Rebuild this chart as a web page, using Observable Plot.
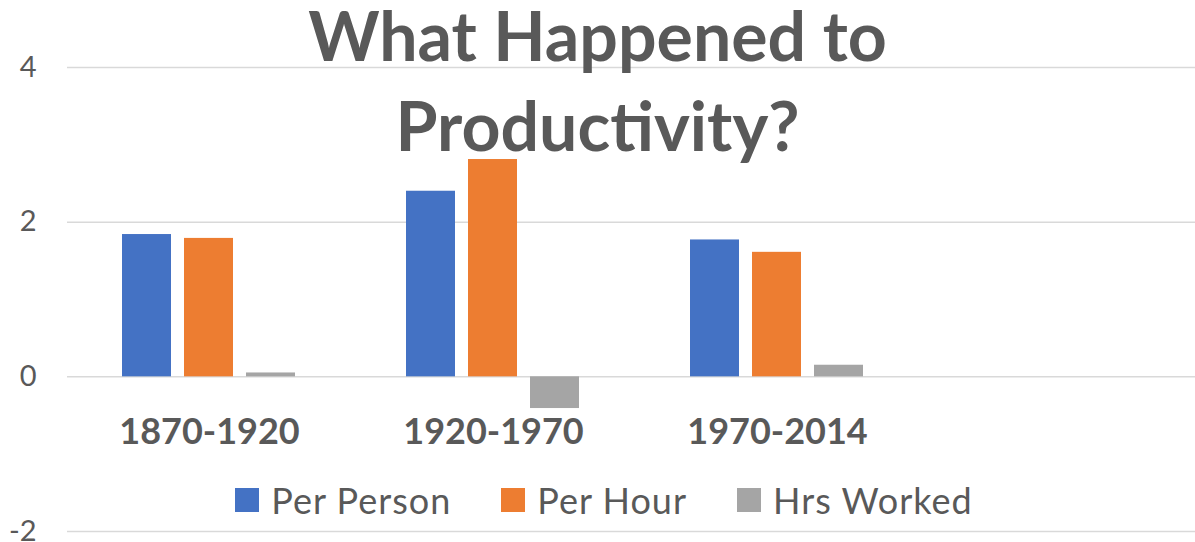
<!DOCTYPE html>
<html>
<head>
<meta charset="utf-8">
<script src="https://cdn.jsdelivr.net/npm/d3@7"></script>
<script src="https://cdn.jsdelivr.net/npm/@observablehq/plot@0.6"></script>
<style>
  html, body { margin: 0; padding: 0; background: #fff; overflow: hidden; }
  #wrap { position: relative; width: 1195px; height: 542px; overflow: hidden; }
  #title {
    position: absolute; left: 0; width: 1195px; top: 0;
    text-align: center; font-family: Lato, sans-serif; font-weight: 700;
    font-size: 68px; color: #595959; pointer-events: none; margin: 0;
  }
  #title .l1 { display: block; line-height: 69px; }
  #title .l2 { display: block; line-height: 111px; }
  #legend {
    position: absolute; left: 0; width: 1208px; top: 482px;
    display: flex; justify-content: center; align-items: center;
    font-family: Lato, sans-serif; font-size: 36px; line-height: 36px;
    letter-spacing: 1px; color: #595959;
  }
  #legend .item { display: flex; align-items: center; margin: 0 25px; }
  #legend .sw { width: 24px; height: 24px; margin-right: 12px; }
</style>
</head>
<body>
<div id="wrap">
  <div id="chart"></div>
  <h1 id="title"><span class="l1">What Happened to</span><span class="l2">Productivity?</span></h1>
  <div id="legend"></div>
</div>
<script>
const categories = ["1870-1920", "1920-1970", "1970-2014", ""];
const series = ["Per Person", "Per Hour", "Hrs Worked"];
const perPerson = [1.84, 2.40, 1.77];
const perHour = [1.79, 2.81, 1.61];
const hrsWorked = [0.05, -0.41, 0.15];
const yTicks = [-2, 0, 2, 4];
const colors = ["#4472C4", "#ED7D31", "#A5A5A5"];

const valuesBySeries = [perPerson, perHour, hrsWorked];
const data = [];
categories.forEach((c, i) => {
  series.forEach((s, j) => {
    const v = valuesBySeries[j][i];
    if (v !== undefined) data.push({period: c, series: s, value: v});
  });
});
// gridlines in every category slot (including the empty one)
const grid = categories.flatMap(c => yTicks.map(t => ({period: c, tick: t})));

const chart = Plot.plot({
  width: 1195,
  height: 542,
  marginLeft: 67,
  marginRight: 0,
  marginTop: 67,
  marginBottom: 11,
  style: {fontFamily: "Lato, sans-serif", color: "#595959", background: "white"},
  fx: {domain: categories, range: [67, 1203], padding: 0, axis: null},
  x: {domain: series, paddingInner: 0.206, paddingOuter: 0.857, axis: null},
  y: {domain: [-2, 4], axis: null},
  color: {domain: series, range: colors},
  marks: [
    Plot.ruleY(grid, {fx: "period", y: "tick", stroke: "#d9d9d9", strokeWidth: 1.5}),
    Plot.barY(data, {fx: "period", x: "series", y: "value", fill: "series"}),
    Plot.axisY(yTicks, {tickSize: 0, tickPadding: 31, fontSize: 29, fill: "#595959",
      tickFormat: d => String(d), label: null}),
    Plot.text(categories.filter(d => d !== ""), {
      fx: d => d, text: d => d, frameAnchor: "bottom", dy: -99,
      lineAnchor: "middle", fontSize: 36, fontWeight: "bold", fill: "#595959"
    })
  ]
});
document.getElementById("chart").appendChild(chart);

const colorScale = chart.scale("color");
const legend = document.getElementById("legend");
series.forEach((s, i) => {
  const item = document.createElement("div");
  item.className = "item";
  const sw = document.createElement("div");
  sw.className = "sw";
  sw.style.background = colorScale.range[i];
  const label = document.createElement("span");
  label.textContent = s;
  item.appendChild(sw);
  item.appendChild(label);
  legend.appendChild(item);
});
</script>
</body>
</html>
